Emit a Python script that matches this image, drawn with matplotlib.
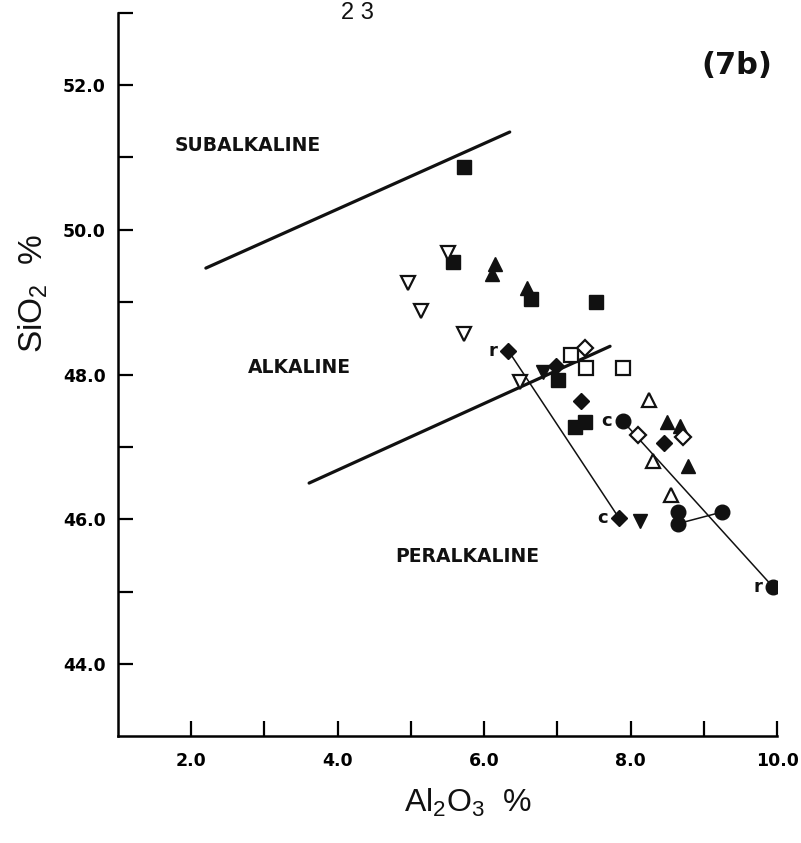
import matplotlib
matplotlib.use("Agg")
import matplotlib.pyplot as plt
import numpy as np

plt.rcParams['mathtext.fontset'] = 'custom'
plt.rcParams['mathtext.rm'] = 'Liberation Sans'
plt.rcParams['mathtext.it'] = 'Liberation Sans'
plt.rcParams['mathtext.bf'] = 'Liberation Sans:bold'

# ---------------- data ----------------
# filled squares
fsq_x = [5.73, 5.58, 6.64, 7.53, 7.01, 7.24, 7.38]
fsq_y = [50.87, 49.55, 49.05, 49.00, 47.93, 47.28, 47.35]
# open squares
osq_x = [7.19, 7.39, 7.90]
osq_y = [48.27, 48.09, 48.09]
# filled up-triangles
ftu_x = [6.15, 6.11, 6.59, 8.50, 8.68, 8.79]
ftu_y = [49.52, 49.39, 49.20, 47.34, 47.29, 46.73]
# open up-triangles
otu_x = [8.25, 8.31, 8.55]
otu_y = [47.65, 46.81, 46.34]
# filled down-triangles
ftd_x = [6.81, 8.13]
ftd_y = [48.04, 45.97]
# open down-triangles
otd_x = [5.51, 4.96, 5.14, 5.73, 6.49]
otd_y = [49.68, 49.27, 48.88, 48.56, 47.90]
# filled diamonds
fdi_x = [6.33, 7.84, 6.98, 7.33, 8.45]
fdi_y = [48.33, 46.02, 48.12, 47.63, 47.06]
# open diamonds
odi_x = [7.38, 8.10, 8.72]
odi_y = [48.36, 47.17, 47.14]
# filled circles
fci_x = [7.89, 9.95, 8.65, 8.65, 9.25]
fci_y = [47.36, 45.06, 46.10, 45.94, 46.10]

# core (c) - rim (r) tie lines
tie1_x = [6.33, 7.84]
tie1_y = [48.33, 46.02]
tie2_x = [7.89, 9.95]
tie2_y = [47.36, 45.06]
tie3_x = [8.65, 9.25]
tie3_y = [45.94, 46.10]

# field boundaries
bnd1_x = [2.20, 6.35]
bnd1_y = [49.47, 51.35]
bnd2_x = [3.61, 7.72]
bnd2_y = [46.50, 48.39]

field_labels = ["SUBALKALINE", "ALKALINE", "PERALKALINE"]
field_x = [1.78, 2.78, 4.78]
field_y = [51.17, 48.09, 45.49]

point_labels = ["r", "c", "c", "r"]
plab_x = [6.33, 7.84, 7.89, 9.95]
plab_y = [48.33, 46.02, 47.36, 45.06]

x_ticks = [2, 3, 4, 5, 6, 7, 8, 9, 10]
x_ticklabels = ["2.0", "", "4.0", "", "6.0", "", "8.0", "", "10.0"]
y_ticks = [44, 45, 46, 47, 48, 49, 50, 51, 52, 53]
y_ticklabels = ["44.0", "", "46.0", "", "48.0", "", "50.0", "", "52.0", ""]

# ---------------- figure ----------------
W, H = 801, 843
fig = plt.figure(figsize=(W / 100, H / 100), dpi=100)
ax = fig.add_axes([118 / W, 1 - 736.4 / H, (777 - 118) / W, (736.4 - 12.6) / H])
ax.set_xlim(1, 10)
ax.set_ylim(43, 53)

for s in ['top', 'right']:
    ax.spines[s].set_visible(False)
for s in ['left', 'bottom']:
    ax.spines[s].set_linewidth(1.8)
ax.set_xticks(x_ticks)
ax.set_xticklabels(x_ticklabels)
ax.set_yticks(y_ticks)
ax.set_yticklabels(y_ticklabels)
ax.tick_params(direction='in', length=11, width=1.6, labelsize=12.5, pad=9)
ax.tick_params(axis='x', pad=11)
for lab in ax.get_xticklabels() + ax.get_yticklabels():
    lab.set_fontweight('bold')
ax.patch.set_visible(False)

# boundary lines
ax.plot(bnd1_x, bnd1_y, color='#111111', lw=2.3, solid_capstyle='round', zorder=2)
ax.plot(bnd2_x, bnd2_y, color='#111111', lw=2.3, solid_capstyle='round', zorder=2)
# tie lines
for tx, ty in [(tie1_x, tie1_y), (tie2_x, tie2_y), (tie3_x, tie3_y)]:
    ax.plot(tx, ty, color='#111111', lw=1.1, zorder=2)

k = '#111111'
mew = 1.6
ax.plot(fsq_x, fsq_y, 's', ms=9.5, color=k, mec=k, ls='none', zorder=3)
ax.plot(osq_x, osq_y, 's', ms=9.5, mfc='white', mec=k, mew=mew, ls='none', zorder=3)
ax.plot(ftu_x, ftu_y, '^', ms=10, color=k, mec=k, ls='none', zorder=3)
ax.plot(otu_x, otu_y, '^', ms=10, mfc='white', mec=k, mew=mew, ls='none', zorder=3)
ax.plot(ftd_x, ftd_y, 'v', ms=10, color=k, mec=k, ls='none', zorder=3)
ax.plot(otd_x, otd_y, 'v', ms=10, mfc='white', mec=k, mew=mew, ls='none', zorder=3)
ax.plot(fdi_x, fdi_y, 'D', ms=8.2, color=k, mec=k, ls='none', zorder=3)
ax.plot(odi_x, odi_y, 'D', ms=8.2, mfc='white', mec=k, mew=mew, ls='none', zorder=3)
ax.plot(fci_x, fci_y, 'o', ms=10.5, color=k, mec=k, ls='none', zorder=3)

for t, x, y in zip(field_labels, field_x, field_y):
    ax.text(x, y, t, fontsize=13.5, fontweight='bold', ha='left', va='center', color=k)

for t, x, y in zip(point_labels, plab_x, plab_y):
    ax.annotate(t, (x, y), xytext=(-8, 0), textcoords='offset points',
                fontsize=13, fontweight='bold', ha='right', va='center', color=k)

# panel label
fig.text(737 / W, 1 - 66 / H, "(7b)", fontsize=22, fontweight='bold',
         ha='center', va='center', color=k)

# axis labels
fig.text(468 / W, 1 - 803 / H, r"Al$_2$O$_3$  %", fontsize=23, family='Liberation Sans',
         ha='center', va='center', color=k)
fig.text(33 / W, 1 - 294 / H, r"SiO$_2$  %", fontsize=24, family='Liberation Sans',
         rotation=90, ha='center', va='center', color=k)

# clipped title remnant at the top
fig.text(357 / W, 1 - 2 / H, "2 3", fontsize=17, family='Liberation Sans',
         ha='center', va='top', color=k)

fig.savefig("out.png", dpi=100, facecolor='white')
